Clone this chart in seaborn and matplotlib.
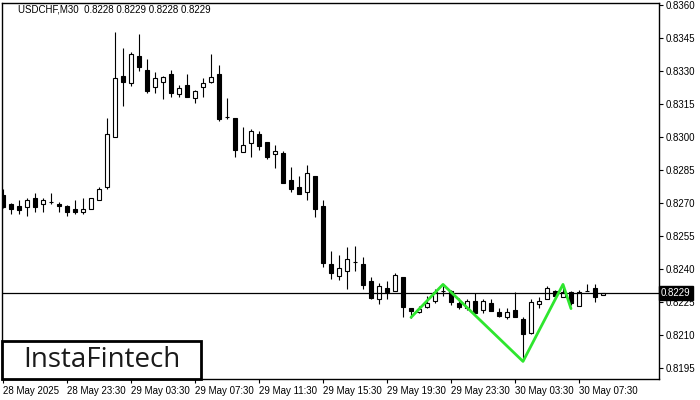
import numpy as np
import pandas as pd
import matplotlib
matplotlib.use('Agg')
import matplotlib.pyplot as plt
import matplotlib.transforms as mtransforms
from matplotlib.patches import Rectangle
import seaborn as sns

# USDCHF M30 candles, 28 May 19:30 .. 30 May 09:00
opens = [0.82737, 0.82696, 0.82687, 0.82683, 0.82722, 0.82694, 0.82703, 0.82697, 0.82687, 0.82673,
         0.82661, 0.82672, 0.82714, 0.82772, 0.83002, 0.83278, 0.83244, 0.83368, 0.83305, 0.83226,
         0.83252, 0.83287, 0.83196, 0.83235, 0.83176, 0.83226, 0.83252, 0.83287, 0.83093, 0.83085,
         0.82933, 0.82974, 0.83014, 0.82976, 0.82924, 0.82926, 0.82805, 0.82773, 0.82752, 0.82823,
         0.82687, 0.82423, 0.82370, 0.82393, 0.82431, 0.82423, 0.82346, 0.82263, 0.82313, 0.82302,
         0.82362, 0.82222, 0.82203, 0.82229, 0.82255, 0.82300, 0.82302, 0.82247, 0.82223, 0.82255,
         0.82214, 0.82244, 0.82203, 0.82181, 0.82214, 0.82172, 0.82111, 0.82242, 0.82263, 0.82302,
         0.82272, 0.82294, 0.82232, 0.82302, 0.82313, 0.82280]
highs = [0.82764, 0.82700, 0.82714, 0.82724, 0.82746, 0.82724, 0.82746, 0.82706, 0.82691, 0.82714,
         0.82724, 0.82724, 0.82774, 0.83085, 0.83479, 0.83403, 0.83388, 0.83468, 0.83353, 0.83294,
         0.83277, 0.83305, 0.83235, 0.83287, 0.83214, 0.83267, 0.83378, 0.83328, 0.83176, 0.83087,
         0.83047, 0.83037, 0.83027, 0.82978, 0.82964, 0.82937, 0.82865, 0.82824, 0.82873, 0.82823,
         0.82714, 0.82482, 0.82464, 0.82502, 0.82506, 0.82453, 0.82364, 0.82335, 0.82346, 0.82383,
         0.82364, 0.82223, 0.82232, 0.82278, 0.82308, 0.82323, 0.82305, 0.82270, 0.82263, 0.82293,
         0.82263, 0.82263, 0.82222, 0.82222, 0.82294, 0.82183, 0.82263, 0.82272, 0.82323, 0.82305,
         0.82323, 0.82302, 0.82305, 0.82331, 0.82331, 0.82290]
lows = [0.82678, 0.82650, 0.82650, 0.82641, 0.82661, 0.82661, 0.82694, 0.82661, 0.82641, 0.82650,
        0.82650, 0.82672, 0.82714, 0.82763, 0.83002, 0.83143, 0.83233, 0.83302, 0.83202, 0.83202,
        0.83173, 0.83183, 0.83183, 0.83183, 0.83153, 0.83183, 0.83244, 0.83073, 0.83082, 0.82911,
        0.82933, 0.82911, 0.82941, 0.82900, 0.82861, 0.82793, 0.82752, 0.82743, 0.82714, 0.82635,
        0.82411, 0.82353, 0.82350, 0.82311, 0.82393, 0.82309, 0.82262, 0.82241, 0.82262, 0.82302,
        0.82181, 0.82178, 0.82199, 0.82222, 0.82247, 0.82279, 0.82237, 0.82218, 0.82214, 0.82199,
        0.82202, 0.82211, 0.82184, 0.82172, 0.82181, 0.81984, 0.82105, 0.82222, 0.82263, 0.82279,
        0.82272, 0.82237, 0.82232, 0.82301, 0.82252, 0.82280]
closes = [0.82682, 0.82672, 0.82668, 0.82714, 0.82683, 0.82714, 0.82703, 0.82685, 0.82661, 0.82661,
          0.82672, 0.82722, 0.82763, 0.83013, 0.83267, 0.83252, 0.83378, 0.83317, 0.83211, 0.83267,
          0.83274, 0.83202, 0.83224, 0.83183, 0.83211, 0.83244, 0.83274, 0.83082, 0.83092, 0.82941,
          0.82963, 0.83027, 0.82961, 0.82911, 0.82937, 0.82793, 0.82763, 0.82743, 0.82835, 0.82672,
          0.82429, 0.82381, 0.82404, 0.82444, 0.82430, 0.82329, 0.82269, 0.82322, 0.82296, 0.82373,
          0.82227, 0.82211, 0.82220, 0.82244, 0.82297, 0.82301, 0.82252, 0.82229, 0.82255, 0.82202,
          0.82255, 0.82211, 0.82187, 0.82205, 0.82181, 0.82104, 0.82252, 0.82253, 0.82313, 0.82279,
          0.82297, 0.82244, 0.82294, 0.82301, 0.82272, 0.82290]

tick_bars = [0, 8, 16, 24, 32, 40, 48, 56, 64, 72]
tick_labels = ['28 May 2025', '28 May 23:30', '29 May 03:30', '29 May 07:30', '29 May 11:30',
               '29 May 15:30', '29 May 19:30', '29 May 23:30', '30 May 03:30', '30 May 07:30']
price_ticks = [0.8195, 0.8210, 0.8225, 0.8240, 0.8255, 0.8270, 0.8285, 0.8300,
               0.8315, 0.8330, 0.8345, 0.8360]

# inverse head and shoulders outline
pattern_x = [51, 55, 65, 70, 71]
pattern_y = [0.8218, 0.8233, 0.8198, 0.8233, 0.8222]

last_price = 0.8229
title = 'USDCHF,M30  0.8228 0.8229 0.8228 0.8229'

sns.set_style("white")
plt.rcParams['font.family'] = ['Liberation Sans', 'DejaVu Sans']

df = pd.DataFrame({'open': opens, 'high': highs, 'low': lows, 'close': closes})
df['bar'] = np.arange(len(df))
df['body_low'] = df[['open', 'close']].min(axis=1)
df['body_h'] = (df['close'] - df['open']).abs()
up = df['close'] >= df['open']

fig = plt.figure(figsize=(7, 4), dpi=100)
ax = fig.add_axes([2/700, 21/400, 657/700, 376/400])

ax.vlines(df['bar'], df['low'], df['high'], color='black', lw=0.8, zorder=1)
ax.bar(df['bar'][up], df['body_h'][up], bottom=df['body_low'][up], width=0.55,
       color='white', edgecolor='black', linewidth=0.8, zorder=2)
ax.bar(df['bar'][~up], df['body_h'][~up], bottom=df['body_low'][~up], width=0.55,
       color='black', edgecolor='black', linewidth=0.8, zorder=2)

ax.axhline(last_price, color='black', lw=0.9, zorder=3)

sns.lineplot(x=pattern_x, y=pattern_y, color='#2ee62e', lw=2, ax=ax, zorder=4)

ax.set_xlim(-0.125, 82)
ax.set_ylim(0.81900, 0.83609)

ax.yaxis.tick_right()
ax.set_yticks(price_ticks)
ax.set_yticklabels([f'{p:.4f}' for p in price_ticks])
ax.set_xticks(tick_bars)
ax.set_xticklabels(tick_labels, ha='left')
ax.tick_params(axis='y', right=True, left=False, length=3, width=0.8, pad=2,
               labelsize=7, colors='black')
ax.tick_params(axis='x', bottom=True, length=3, width=0.8, pad=2,
               labelsize=7, colors='black')
ax.set_xlabel('')
ax.set_ylabel('')
for s in ax.spines.values():
    s.set_color('black')
    s.set_linewidth(1)

trans = mtransforms.blended_transform_factory(ax.transAxes, ax.transData)
ax.text(1.003, last_price, f'{last_price:.4f}', transform=trans, color='white',
        fontsize=7, va='center', ha='left', zorder=5,
        bbox=dict(boxstyle='square,pad=0.2', fc='black', ec='black'))

fig.text(18/700, 1 - 10/400, title, fontsize=7, va='center', ha='left', color='black')

ax.add_patch(Rectangle((0, 0), 0.303, 0.102, transform=ax.transAxes, facecolor='white',
                       edgecolor='black', linewidth=2, zorder=6, clip_on=False))
ax.text(0.152, 0.05, 'InstaFintech', transform=ax.transAxes, fontsize=20,
        family=['Open Sans', 'DejaVu Sans'], color='#1a1a1a', ha='center', va='center', zorder=7)

fig.savefig('out.png', dpi=100)
